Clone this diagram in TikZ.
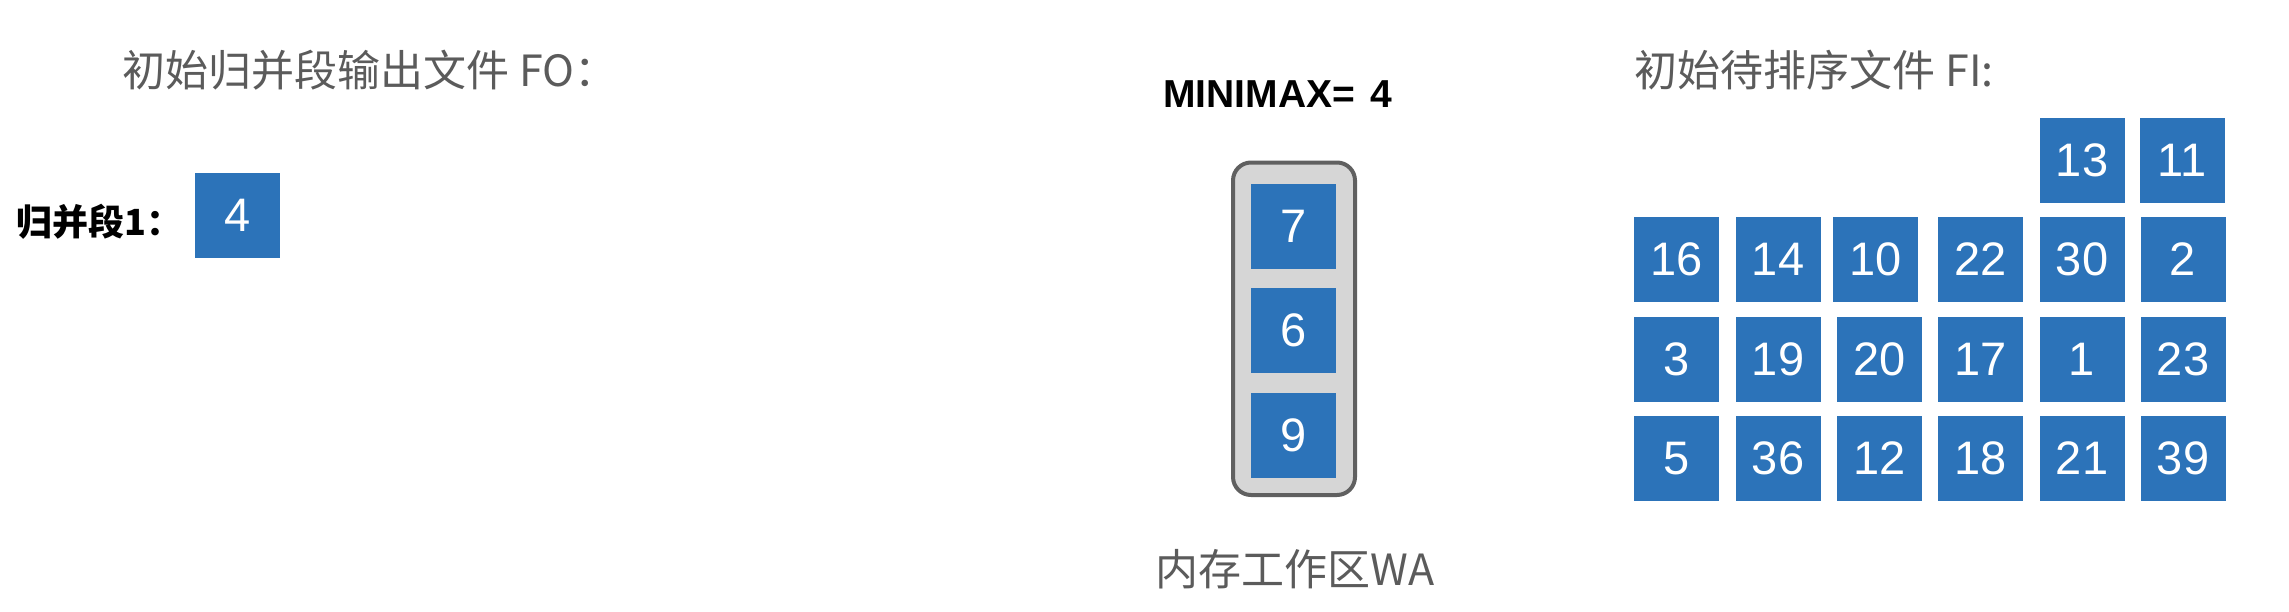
\documentclass[tikz,border=0pt]{standalone}
\usepackage{fontspec}
\setmainfont{Liberation Sans}
\newfontfamily\cjk{Noto Sans CJK SC}
\newfontfamily\numf{Liberation Sans}
\definecolor{cellblue}{RGB}{44,115,185}
\definecolor{txtgray}{RGB}{91,91,91}
\definecolor{wafill}{RGB}{214,214,214}
\definecolor{wadraw}{RGB}{96,96,96}
\begin{document}
\begin{tikzpicture}[x=1pt,y=-1pt,
  cell/.style={fill=cellblue,minimum width=85pt,minimum height=85pt,inner sep=0pt,
    text=white,font=\numf\fontsize{47}{50}\selectfont},
  title/.style={inner sep=0pt,text=txtgray,font=\cjk\fontsize{43}{46}\selectfont},
  blacklabel/.style={inner sep=0pt,text=black,font=\cjk\bfseries\fontsize{36}{40}\selectfont},
  minilabel/.style={inner sep=0pt,text=black,font=\numf\bfseries\fontsize{39}{42}\selectfont},
  wabox/.style={fill=wafill,draw=wadraw,line width=4pt,rounded corners=18pt}]
\useasboundingbox (0,0) rectangle (2289,611);
% titles
\node[title,anchor=base west] (fotitle) at (122.5,86) {初始归并段输出文件 FO：};
\node[title,anchor=base west] (fititle) at (1634.5,86) {初始待排序文件 FI:};
% left: merge segment
\node[blacklabel,anchor=base west] (seg1) at (16.5,235.5) {归并段1：};
\node[cell] (fo4) at (237.5,215.2) {4};
% middle: working area
\node[minilabel,anchor=base west] (minimax) at (1163,107) {MINIMAX=\hspace{5pt} 4};
\draw[wabox] (1233,162.5) rectangle (1355,495);
\node[cell] (wa7) at (1293.5,226.5) {7};
\node[cell] (wa6) at (1293.5,330) {6};
\node[cell] (wa9) at (1293.5,435) {9};
\node[title,anchor=base] (walabel) at (1295,585) {内存工作区WA};
% right: input file grid
\node[cell] (fi13) at (2082,160) {13};
\node[cell] (fi11) at (2182,160) {11};
\node[cell] (fi16) at (1676.5,259.5) {16};
\node[cell] (fi14) at (1778,259.5) {14};
\node[cell] (fi10) at (1875.7,259.5) {10};
\node[cell] (fi22) at (1980.5,259.5) {22};
\node[cell] (fi30) at (2082,259.5) {30};
\node[cell] (fi2) at (2183,259.5) {2};
\node[cell] (fi3) at (1676.5,359) {3};
\node[cell] (fi19) at (1778,359) {19};
\node[cell] (fi20) at (1879.7,359) {20};
\node[cell] (fi17) at (1980.5,359) {17};
\node[cell] (fi1) at (2082,359) {1};
\node[cell] (fi23) at (2183,359) {23};
\node[cell] (fi5) at (1676.5,458.5) {5};
\node[cell] (fi36) at (1778,458.5) {36};
\node[cell] (fi12) at (1879.7,458.5) {12};
\node[cell] (fi18) at (1980.5,458.5) {18};
\node[cell] (fi21) at (2082,458.5) {21};
\node[cell] (fi39) at (2183,458.5) {39};
\end{tikzpicture}
\end{document}
